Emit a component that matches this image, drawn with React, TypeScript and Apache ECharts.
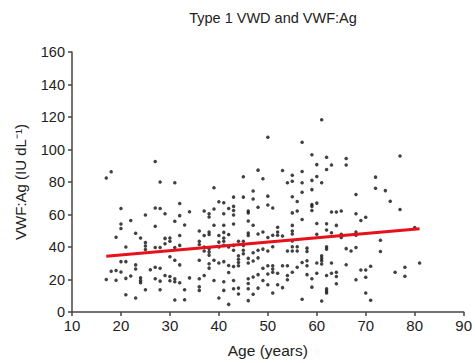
import React, { useEffect, useRef } from "react";
import * as echarts from "echarts";

const titleText = "Type 1 VWD and VWF:Ag";
const xName = "Age (years)";
const yName = "VWF:Ag (IU dL\u207B\u00B9)";

// [age, VWF:Ag]
const points: number[][] = [
  [27,92.6],[18,86.3],[17,82.4],[28,80],[31,79.6],[48,87.3],[45,83.2],[39,76.5],[47,74.5],[47,69.6],
  [43,70.7],[45,70.7],[40,67.8],[41,67.2],[32,66.8],[43,65],[42,63.7],[39,63.4],[20,63.7],[27,64],
  [28,63.7],[48,64.4],[46,62.2],[37,62.2],[43,62.5],[34,61.7],
  [61,118.3],[50,107.5],[57,104.5],[59,96.8],[62,95.2],[66,94.4],[66,90.5],[60,90.7],[63,90.5],[62,87.7],
  [53,87.1],[57,86.5],[55,84.2],[60,83.4],[59,81],[55,80.4],[54,79.6],[57,79.6],[61,79.6],[49,82],
  [77,96],[72,83],[72,76.2],[74,74.7],[75,68.2],[68,72.3],[59,75.3],[57,73.7],[55,70.9],[50,71.3],
  [56,68],[59,66.2],[59,65],[60,67],[50,65.8],[51,64],[59,62.5],[56,62.2],[63,61.6],[64,61.6],[65,62.2],[77,63.1],
  [25,59.7],[29,60.5],[32,59.3],[38,60.5],[38,58.5],[41,60.5],[43,59.7],[46,61],[46,56],[47,53.4],
  [20,54.2],[20,51.4],[22,56.3],[27,52.8],[31,55.9],[33,53.6],[39,53.4],[41,53.4],[41,49],[43,54.2],
  [36,49.8],[37,47.1],[38,47.7],[38,49.2],[40,47.1],[42,47.7],[41,45.5],[46,48.6],[46,47.1],[48,48],
  [19,46],[23,48.4],[24,45.5],[25,42.7],[25,40.6],[28,39.7],[27,39.7],[30,43.5],[32,47.1],[32,41],
  [31,39.7],[21,40],[36,43.5],[36,41.5],[37,40],[37,37.5],[38,39],[38,37],[38,35],[40,43],
  [40,40],[41,43.5],[41,41],[42,40],[43,41],[43,38],[44,43.5],[44,34.6],[44,32.5],[44,30.5],
  [44,28.5],[45,43.5],[45,41],[45,38],[45,35.8],[47,36.5],[48,38],[48,33.3],[47,31.4],[46,33],
  [46,30.2],[21,31],[20,31],[23,29],[23,26.5],[26,26],[28,26.9],[30,34],[31,31.8],[32,29],
  [36,31.8],[38,29.7],[38,27],[39,31.8],[40,30.2],[41,31],[42,28.6],[42,24.3],[43,28],[18,25.1],
  [19,25.5],[17,20],[19,19.6],[20,24.6],[21,20.7],[22,22.1],[24,21.1],[24,19.4],[24,18],[25,13.7],
  [27,20.5],[28,13.7],[30,21.9],[30,19.2],[31,20.5],[31,18.6],[32,18],[33,13.7],[34,21],[36,20.5],
  [36,15.6],[36,13.3],[37,22.5],[39,19.4],[41,18.6],[41,13.3],[43,19.4],[43,14.3],[44,14.7],[44,11.1],
  [46,20.5],[46,17.6],[46,14.3],[47,21.5],[47,10.9],[48,23],[48,14.7],[21,10.6],[23,8.6],[33,7.6],
  [40,8.6],[42,4.7],
  [55,61],[68,60.4],[69,56.3],[70,58.3],[57,56.9],[60,54.5],[62,54.3],[64,53.3],[52,52.2],[52,49.2],
  [52,47.2],[55,53.3],[55,49.8],[55,48],[49,49.2],[50,45.8],[53,46.8],[51,47.2],[60,47.8],[62,50.4],
  [63,48.8],[65,47.8],[65,45.8],[68,49.2],[68,47.2],[73,44.1],[73,37.2],[55,43.7],[55,40.1],[55,37.6],
  [56,40.1],[56,37.6],[54,37.6],[50,37.6],[49,38.7],[51,40.1],[58,39.3],[58,37.2],[61,34.6],[61,33],
  [61,31.6],[61,29.5],[62,40.1],[62,38.7],[60,30.1],[57,30.5],[58,31.6],[58,28.5],[63,30.1],[66,39],
  [66,29.1],[67,37.6],[68,39.7],[69,25.9],[70,25.9],[71,28.1],[81,30.1],[76,24.5],[78,27.5],[78,22],
  [49,26.9],[50,28.5],[50,23.4],[51,28.5],[51,26.5],[51,24.5],[52,23.8],[53,28.5],[54,28.5],[54,22.4],
  [54,19.8],[55,24.5],[56,27.5],[58,23],[59,20.4],[60,23.8],[62,22.4],[63,23.8],[64,24.5],[64,21.8],
  [64,17.4],[62,14.3],[62,12.9],[62,11.7],[59,15.3],[49,19.4],[50,16.8],[52,16.8],[53,15],[51,11.7],
  [57,7.8],[61,6.8],[68,19.8],[70,21.4],[70,11.7],[71,7.2],[80,52],
  [31,7.4],[46,7],[29,45.3],[29,42],[30,45.5],[28,19],[29,22.4],[27,27.5],[25,38.5]
];

// regression line endpoints
const fitX = [17, 81];
const fitY = [34.3, 51.2];

const xTicks = { min: 10, max: 90, interval: 10 };
const yTicks = { min: 0, max: 160, interval: 20 };

export default function App() {
  const ref = useRef<HTMLDivElement>(null);
  useEffect(() => {
    if (!ref.current) return;
    const chart = echarts.init(ref.current, null, { renderer: "svg" });
    const axisColor = "#444";
    const font = "Liberation Sans, Arial, sans-serif";
    chart.setOption({
      animation: false,
      backgroundColor: "#fff",
      title: {
        text: titleText,
        left: 268,
        textAlign: "center",
        top: 5,
        textStyle: { fontSize: 14.5, fontWeight: "normal", color: "#222", fontFamily: font },
      },
      grid: { left: 72, right: 11, top: 52, bottom: 47.5, containLabel: false },
      xAxis: {
        type: "value",
        min: xTicks.min,
        max: xTicks.max,
        interval: xTicks.interval,
        name: xName,
        nameLocation: "middle",
        nameGap: 30,
        nameTextStyle: { fontSize: 15.5, color: "#222", fontFamily: font },
        axisLine: { lineStyle: { color: axisColor, width: 1.5 } },
        axisTick: { show: true, length: 4, lineStyle: { color: axisColor, width: 1.5 } },
        axisLabel: { fontSize: 15, color: "#222", margin: 6, fontFamily: font },
        splitLine: { show: false },
      },
      yAxis: {
        type: "value",
        min: yTicks.min,
        max: yTicks.max,
        interval: yTicks.interval,
        name: yName,
        nameLocation: "middle",
        nameGap: 44,
        nameTextStyle: { fontSize: 15, color: "#222", fontFamily: font },
        axisLine: { show: true, lineStyle: { color: axisColor, width: 1.5 } },
        axisTick: { show: true, length: 4, lineStyle: { color: axisColor, width: 1.5 } },
        axisLabel: { fontSize: 14.5, color: "#222", margin: 7, fontFamily: font },
        splitLine: { show: false },
      },
      series: [
        {
          type: "scatter",
          data: points,
          symbol: "circle",
          symbolSize: 3.5,
          itemStyle: { color: "#111" },
          z: 2,
        },
        {
          type: "line",
          data: fitX.map((x, i) => [x, fitY[i]]),
          symbol: "none",
          lineStyle: { color: "#e8101a", width: 3 },
          z: 3,
        },
      ],
    });
    return () => chart.dispose();
  }, []);
  return <div ref={ref} style={{ width: 475, height: 363, position: "absolute", left: 0, top: 0 }} />;
}
